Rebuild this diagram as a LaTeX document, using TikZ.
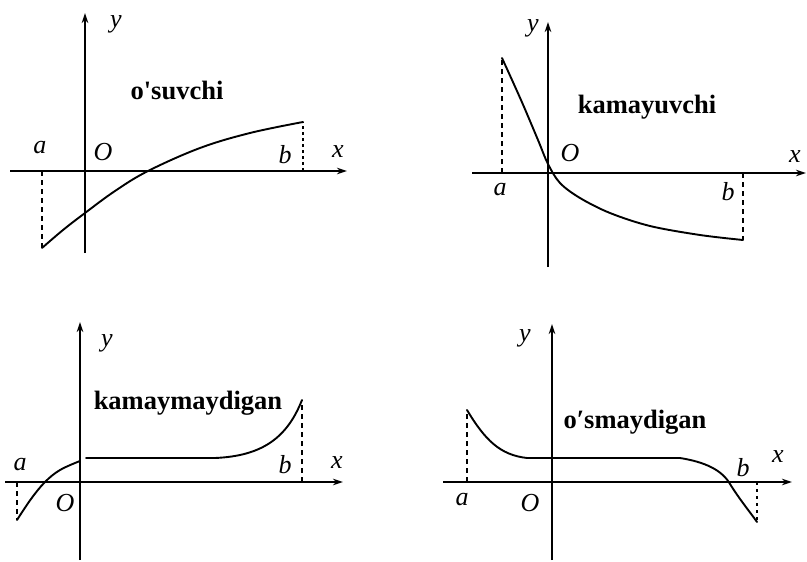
\documentclass[tikz,border=0pt]{standalone}
\usepackage{fontspec}
\setmainfont{Liberation Serif}[Ligatures=TeXOff]
\usetikzlibrary{arrows.meta}
\tikzset{
  axis/.style={line width=1.9pt,-{Stealth[length=10pt,width=6.5pt]}},
  curve/.style={line width=1.9pt,line join=round,line cap=round},
  guide/.style={line width=1.7pt,dash pattern=on 5pt off 4pt},
  lab/.style={font=\fontsize{26}{26}\selectfont\itshape,inner sep=0pt},
  title/.style={font=\fontsize{26.5}{26.5}\selectfont\bfseries,inner sep=0pt}
}
\begin{document}
\begin{tikzpicture}[x=1pt,y=-1pt]
\useasboundingbox (0,0) rectangle (807,562);
% ---------- panel 1 : o'suvchi ----------
\coordinate (p1xs) at (10,171); \coordinate (p1xe) at (347,171);
\coordinate (p1ys) at (85,253); \coordinate (p1ye) at (85,13);
\draw[axis] (p1xs) -- (p1xe);
\draw[axis] (p1ys) -- (p1ye);
\coordinate (p1a) at (42,171); \coordinate (p1fa) at (42,248);
\coordinate (p1b) at (303,171); \coordinate (p1fb) at (303,122);
\draw[guide] (p1a) -- (p1fa);
\draw[guide,dash pattern=on 3pt off 3pt] (p1b) -- (p1fb);
\draw[curve] plot[smooth,tension=0.6] coordinates {(42,248) (63,230) (85,213) (115,191) (148,171) (200,148) (250,133) (303,122)};
\node[lab] (p1y) at (116,24) {y};
\node[lab] (p1x) at (338,152) {x};
\node[lab] (p1al) at (40,148) {a};
\node[lab] (p1O) at (103,152) {O};
\node[lab] (p1bl) at (285,155) {b};
\node[title] (p1t) at (177,90) {o'suvchi};
% ---------- panel 2 : kamayuvchi ----------
\coordinate (p2xs) at (472,173); \coordinate (p2xe) at (806,173);
\coordinate (p2ys) at (548,267); \coordinate (p2ye) at (548,22);
\draw[axis] (p2xs) -- (p2xe);
\draw[axis] (p2ys) -- (p2ye);
\coordinate (p2a) at (502,173); \coordinate (p2fa) at (502,58);
\coordinate (p2b) at (743,173); \coordinate (p2fb) at (743,240);
\draw[guide] (p2a) -- (p2fa);
\draw[guide] (p2b) -- (p2fb);
\draw[curve] plot[smooth,tension=0.55] coordinates {(502,58) (521,100) (538,140) (548,164) (560,183) (580,198) (610,213) (650,226) (700,235) (743,240)};
\node[lab] (p2y) at (533,28) {y};
\node[lab] (p2x) at (795,157) {x};
\node[lab] (p2al) at (500,190) {a};
\node[lab] (p2O) at (570,153) {O};
\node[lab] (p2bl) at (728,192) {b};
\node[title] (p2t) at (647,107) {kamayuvchi};
% ---------- panel 3 : kamaymaydigan ----------
\coordinate (p3xs) at (5,482); \coordinate (p3xe) at (343,482);
\coordinate (p3ys) at (80,560); \coordinate (p3ye) at (80,322);
\draw[axis] (p3xs) -- (p3xe);
\draw[axis] (p3ys) -- (p3ye);
\coordinate (p3a) at (17,482); \coordinate (p3fa) at (17,520);
\coordinate (p3b) at (302,482); \coordinate (p3fb) at (302,400);
\draw[guide] (p3a) -- (p3fa);
\draw[guide] (p3b) -- (p3fb);
\draw[curve] plot[smooth,tension=0.6] coordinates {(17,520) (31,499) (45,482) (60,470) (80,461)};
\draw[curve] (86,458) -- (215,458) .. controls (262,456) and (287,438) .. (302,400);
\node[lab] (p3y) at (107,343) {y};
\node[lab] (p3x) at (337,463) {x};
\node[lab] (p3al) at (20,465) {a};
\node[lab] (p3O) at (65,503) {O};
\node[lab] (p3bl) at (285,465) {b};
\node[title] (p3t) at (188,403) {kamaymaydigan};
% ---------- panel 4 : o'smaydigan ----------
\coordinate (p4xs) at (443,482); \coordinate (p4xe) at (792,482);
\coordinate (p4ys) at (552,560); \coordinate (p4ye) at (552,324);
\draw[axis] (p4xs) -- (p4xe);
\draw[axis] (p4ys) -- (p4ye);
\coordinate (p4a) at (467,482); \coordinate (p4fa) at (467,410);
\coordinate (p4b) at (757,482); \coordinate (p4fb) at (757,520);
\draw[guide] (p4a) -- (p4fa);
\draw[guide,dash pattern=on 3pt off 4pt] (p4b) -- (p4fb);
\draw[curve] (467,410) .. controls (485,440) and (500,455) .. (527,458) -- (680,458)
  .. controls (705,462) and (722,470) .. (730,484) .. controls (740,500) and (750,512) .. (757,522);
\node[lab] (p4y) at (525,338) {y};
\node[lab] (p4x) at (778,457) {x};
\node[lab] (p4al) at (462,500) {a};
\node[lab] (p4O) at (530,503) {O};
\node[lab] (p4bl) at (743,468) {b};
\node[title] (p4t) at (635,422) {o′smaydigan};
\end{tikzpicture}
\end{document}
